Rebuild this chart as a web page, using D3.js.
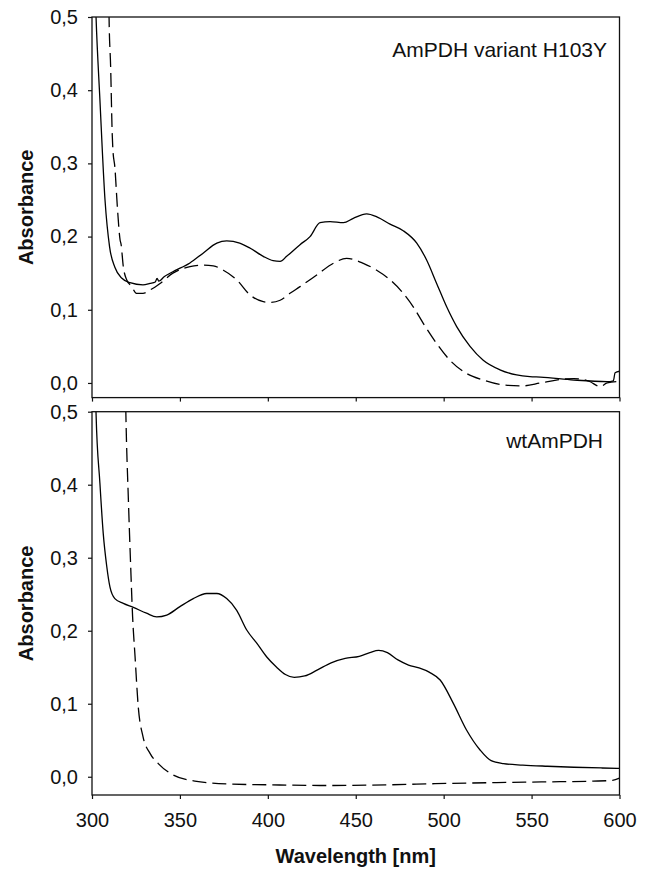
<!DOCTYPE html>
<html>
<head>
<meta charset="utf-8">
<script src="https://cdn.jsdelivr.net/npm/d3@7"></script>
<style>
  body { margin: 0; background: #fff; }
  svg { display: block; font-family: "Liberation Sans", Arial, sans-serif; }
</style>
</head>
<body>
<svg id="chart" width="648" height="870"></svg>
<script>
// ---- data ----
const yTicks = [0, 0.1, 0.2, 0.3, 0.4, 0.5];
const xTicks = [300, 350, 400, 450, 500, 550, 600];

// AmPDH variant H103Y, solid trace
const h103yWl  = [301.5, 302.3, 304.5, 307.4, 310, 313, 317, 321.6, 329, 333, 336, 337, 338, 341, 346, 355.7, 363, 371, 376.6, 384, 390, 397.4, 403, 407, 410.7, 418.3, 424, 429.7, 435.4, 443, 448.6, 456.2, 462, 469.5, 477, 484.7, 490.3, 496, 501.7, 507.4, 515, 522.5, 532, 541.5, 549, 555, 574, 593, 596.5, 597.5, 600];
const h103yAbs = [0.56, 0.5, 0.387, 0.25, 0.186, 0.158, 0.143, 0.137, 0.134, 0.136, 0.138, 0.143, 0.139, 0.145, 0.152, 0.164, 0.177, 0.191, 0.194, 0.191, 0.184, 0.173, 0.167, 0.166, 0.173, 0.189, 0.2, 0.219, 0.2205, 0.219, 0.225, 0.231, 0.227, 0.217, 0.208, 0.191, 0.168, 0.136, 0.104, 0.077, 0.05, 0.031, 0.018, 0.011, 0.0086, 0.008, 0.004, 0.0018, 0.003, 0.014, 0.016];

// AmPDH variant H103Y, dashed trace
const h103yDashWl  = [309.4, 309.7, 310.6, 311.5, 311.9, 313, 314.4, 316, 316.5, 317.8, 319.7, 322.5, 325.3, 329, 333, 338.7, 346, 355.7, 363, 369, 374.7, 382.3, 390, 397.4, 401, 407, 412.6, 418.3, 427.8, 437.3, 444.8, 454.3, 461.9, 469.5, 477, 482.7, 488.4, 496, 503.6, 513, 522.5, 534, 545, 555, 564, 574, 583, 589, 593, 600];
const h103yDashAbs = [0.56, 0.5, 0.432, 0.34, 0.318, 0.295, 0.241, 0.195, 0.19, 0.159, 0.141, 0.132, 0.1225, 0.1225, 0.127, 0.136, 0.15, 0.159, 0.161, 0.16, 0.154, 0.141, 0.12, 0.111, 0.11, 0.113, 0.1225, 0.1316, 0.1475, 0.1635, 0.1703, 0.1635, 0.154, 0.141, 0.1225, 0.104, 0.0815, 0.054, 0.031, 0.013, 0.004, -0.0027, -0.004, 0, 0.004, 0.006, 0.002, -0.005, 0, 0.002];

// wtAmPDH, solid trace
const wtWl  = [301.5, 302.3, 304.5, 306.4, 308.4, 310.2, 313, 317.8, 323.5, 331, 336.8, 342.5, 350, 357.6, 365.2, 371, 376.6, 382.3, 388, 393.7, 399.4, 405, 410, 415, 421, 428, 436, 444, 452, 458, 463, 468, 474, 480, 486, 492, 498, 505.5, 513, 520.7, 527, 534, 545, 559, 574, 590, 600];
const wtAbs = [0.58, 0.498, 0.402, 0.333, 0.288, 0.26, 0.244, 0.2375, 0.232, 0.224, 0.219, 0.2215, 0.233, 0.244, 0.251, 0.251, 0.244, 0.228, 0.201, 0.183, 0.164, 0.15, 0.14, 0.136, 0.138, 0.146, 0.156, 0.162, 0.165, 0.17, 0.173, 0.17, 0.16, 0.153, 0.149, 0.143, 0.1325, 0.1005, 0.064, 0.0366, 0.022, 0.018, 0.016, 0.0144, 0.013, 0.012, 0.0115];

// wtAmPDH, dashed trace
const wtDashWl  = [318.8, 319.3, 320.7, 322, 323.1, 324.5, 326.3, 329, 333, 337.7, 345.7, 358.5, 377.6, 400, 431, 470, 495, 530, 559, 585, 596, 600];
const wtDashAbs = [0.56, 0.493, 0.379, 0.288, 0.219, 0.164, 0.096, 0.055, 0.032, 0.018, 0.003, -0.006, -0.01, -0.011, -0.012, -0.011, -0.0095, -0.008, -0.007, -0.006, -0.005, -0.002];

const panelLabels = ["AmPDH variant H103Y", "wtAmPDH"];

// ---- layout ----
const svg = d3.select("#chart");
const fontSize = 20;
const x = d3.scaleLinear().domain([300, 600]).range([92, 619.5]);

const panels = [
    { y: d3.scaleLinear().domain([-0.02, 0.5]).range([397.6, 17]), label: panelLabels[0], labelX: 607, labelDy: 40,
      series: [{ wl: h103yWl, abs: h103yAbs, dash: null }, { wl: h103yDashWl, abs: h103yDashAbs, dash: "14,6" }],
      xLabels: false },
    { y: d3.scaleLinear().domain([-0.025, 0.5]).range([795, 411.7]), label: panelLabels[1], labelX: 603, labelDy: 36.6,
      series: [{ wl: wtWl, abs: wtAbs, dash: null }, { wl: wtDashWl, abs: wtDashAbs, dash: "14,6" }],
      xLabels: true }
];

const locale = d3.formatLocale({ decimal: ",", thousands: ".", grouping: [3], currency: ["", ""] });
const fmt = locale.format(".1f");

svg.append("rect").attr("width", 648).attr("height", 870).attr("fill", "#fff");

panels.forEach((p, i) => {
    const g = svg.append("g").attr("class", "panel");
    const [y0, y1] = p.y.range();
    const [x0, x1] = x.range();

    g.append("clipPath").attr("id", "clip" + i)
        .append("rect")
        .attr("x", x0).attr("y", y1)
        .attr("width", x1 - x0).attr("height", y0 - y1);

    const line = d3.line()
        .x(d => x(d[0]))
        .y(d => p.y(d[1]))
        .curve(d3.curveMonotoneX);

    p.series.forEach(s => {
        g.append("path")
            .datum(s.wl.map((w, k) => [w, s.abs[k]]))
            .attr("clip-path", `url(#clip${i})`)
            .attr("fill", "none")
            .attr("stroke", "#000")
            .attr("stroke-width", 1.3)
            .attr("stroke-dasharray", s.dash)
            .attr("d", line);
    });

    // y axis
    const yAxis = g.append("g")
        .attr("transform", `translate(${x0},0)`)
        .call(d3.axisLeft(p.y).tickValues(yTicks).tickFormat(fmt).tickSize(4).tickPadding(10));
    yAxis.select(".domain").remove();
    yAxis.selectAll("line").attr("stroke", "#111").attr("stroke-width", 1.2);
    yAxis.selectAll("text").attr("font-size", fontSize).attr("fill", "#111")
        .attr("font-family", "Liberation Sans, Arial, sans-serif");

    // x axis (labels only on the lower panel)
    const xAxis = g.append("g")
        .attr("transform", `translate(0,${y0})`)
        .call(d3.axisBottom(x).tickValues(xTicks).tickSize(4).tickPadding(13.5)
            .tickFormat(p.xLabels ? d3.format("d") : () => ""));
    xAxis.select(".domain").remove();
    xAxis.selectAll("line").attr("stroke", "#111").attr("stroke-width", 1.2);
    xAxis.selectAll("text").attr("font-size", fontSize).attr("fill", "#111")
        .attr("font-family", "Liberation Sans, Arial, sans-serif");

    // frame
    g.append("rect")
        .attr("x", x0).attr("y", y1)
        .attr("width", x1 - x0).attr("height", y0 - y1)
        .attr("fill", "none")
        .attr("stroke", "#111")
        .attr("stroke-width", 1.3);

    // axis title
    g.append("text")
        .attr("transform", `translate(33,${(y0 + y1) / 2}) rotate(-90)`)
        .attr("text-anchor", "middle")
        .attr("font-size", fontSize)
        .attr("font-weight", "bold")
        .attr("fill", "#111")
        .text("Absorbance");

    // panel label
    g.append("text")
        .attr("x", p.labelX)
        .attr("y", y1 + p.labelDy)
        .attr("text-anchor", "end")
        .attr("font-size", 21)
        .attr("fill", "#111")
        .text(p.label);
});

svg.append("text")
    .attr("x", (x.range()[0] + x.range()[1]) / 2)
    .attr("y", 863)
    .attr("text-anchor", "middle")
    .attr("font-size", fontSize)
    .attr("font-weight", "bold")
    .attr("fill", "#111")
    .text("Wavelength [nm]");
</script>
</body>
</html>
